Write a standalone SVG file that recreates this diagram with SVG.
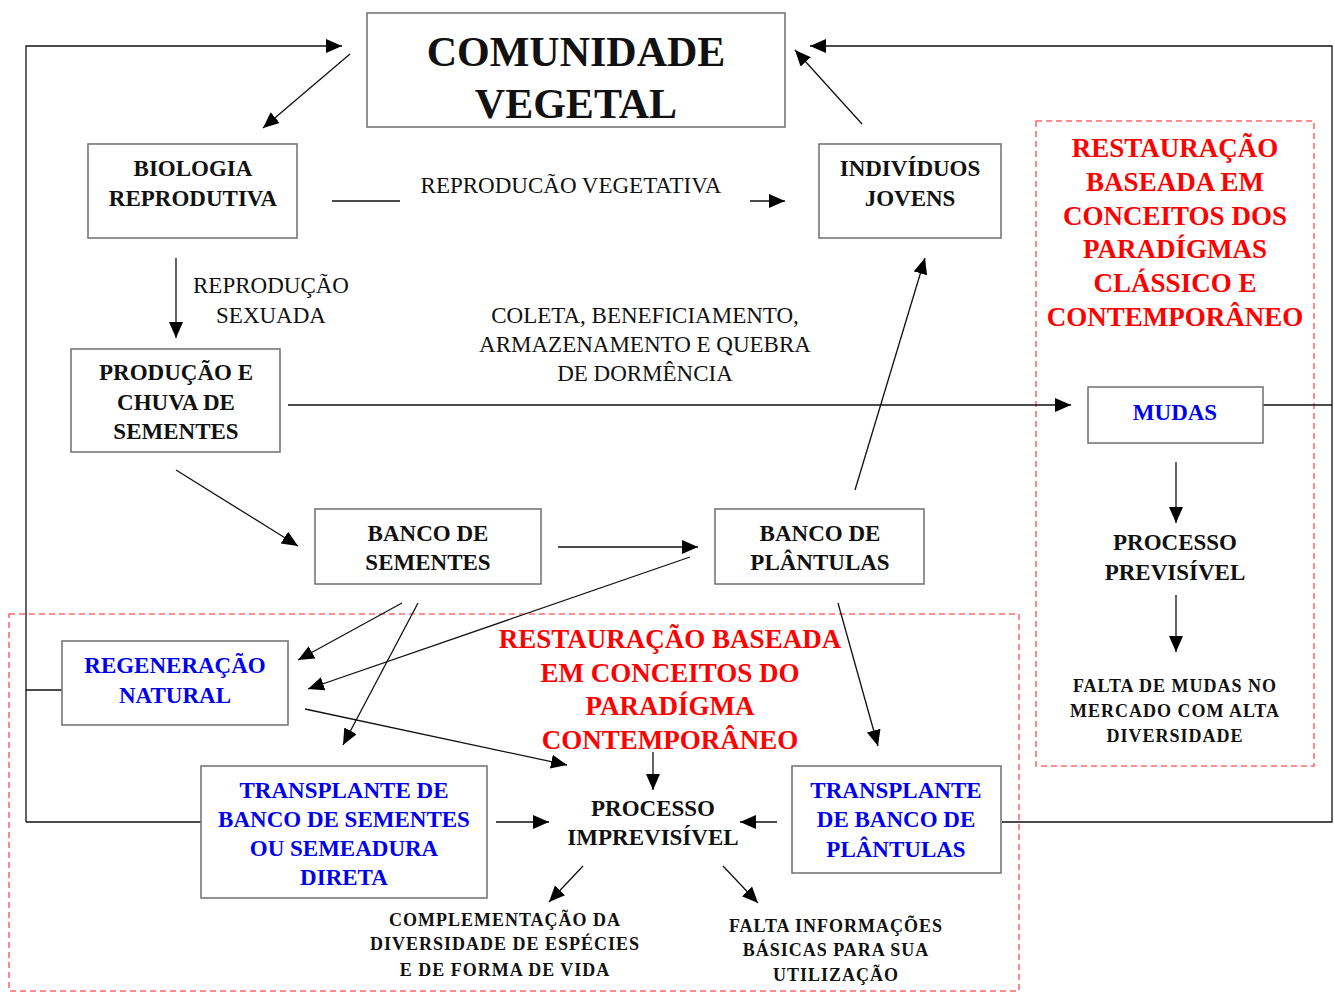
<svg xmlns="http://www.w3.org/2000/svg" width="1335" height="992" viewBox="0 0 1335 992">
<style>
text{font-family:"Liberation Serif","Times New Roman",serif;text-anchor:middle}
.b{font-weight:bold;font-size:23px;fill:#111}
.blue{font-weight:bold;font-size:23px;fill:#0000ee}
.red{font-weight:bold;font-size:27px;fill:#ff0000}
.reg{font-size:23px;fill:#111}
.sm{font-weight:bold;font-size:18px;fill:#111;letter-spacing:1px}
.box{fill:#fff;stroke:#777;stroke-width:1.6}
.dash{fill:none;stroke:#ff6b6b;stroke-width:1.6;stroke-dasharray:6 4}
.ln{fill:none;stroke:#111;stroke-width:1.3}
.ar{fill:none;stroke:#111;stroke-width:1.3;marker-end:url(#ah)}
</style>
<defs>
<marker id="ah" markerUnits="userSpaceOnUse" markerWidth="18" markerHeight="16" refX="16" refY="7" orient="auto">
<path d="M0,0 L16,7 L0,14 Z" fill="#000"/>
</marker>
</defs>
<rect width="1335" height="992" fill="#fff"/>
<g id="regions">
<rect class="dash" x="1036" y="121" width="278" height="645"/>
<rect class="dash" x="9" y="614" width="1010" height="377"/>
</g>
<g id="connectors">
<path class="ar" d="M26,822 L26,46 L342,46"/>
<path class="ln" d="M62,690 L26,690"/>
<path class="ln" d="M201,822 L26,822"/>
<path class="ar" d="M1002,822 L1332,822 L1332,46 L810,46"/>
<path class="ln" d="M1263,405 L1332,405"/>
<path class="ar" d="M350,54 L263,128"/>
<path class="ar" d="M862,124 L795,50"/>
<path class="ln" d="M332,201 L400,201"/>
<path class="ar" d="M750,201 L785,201"/>
<path class="ar" d="M176,258 L176,338"/>
<path class="ar" d="M288,405 L1071,405"/>
<path class="ar" d="M176,470 L298,546"/>
<path class="ar" d="M558,547 L698,547"/>
<path class="ar" d="M855,490 L925,258"/>
<path class="ar" d="M690,557 L308,689"/>
<path class="ar" d="M402,603 L298,660"/>
<path class="ar" d="M418,603 L343,745"/>
<path class="ar" d="M305,709 L567,765"/>
<path class="ar" d="M838,603 L878,746"/>
<path class="ar" d="M653,752 L653,790"/>
<path class="ar" d="M496,822 L549,822"/>
<path class="ar" d="M777,822 L740,822"/>
<path class="ar" d="M583,866 L549,902"/>
<path class="ar" d="M723,866 L758,903"/>
<path class="ar" d="M1176,462 L1176,523"/>
<path class="ar" d="M1176,595 L1176,652"/>
</g>
<g id="comunidade">
<rect class="box" x="367" y="13" width="418" height="114"/>
<text x="576" y="66" style="font-weight:bold;font-size:42px;fill:#111">COMUNIDADE</text>
<text x="576" y="118" style="font-weight:bold;font-size:42px;fill:#111">VEGETAL</text>
</g>
<g id="biologia">
<rect class="box" x="88" y="144" width="209" height="94"/>
<text class="b" x="193" y="176">BIOLOGIA</text>
<text class="b" x="193" y="206">REPRODUTIVA</text>
</g>
<g id="individuos">
<rect class="box" x="819" y="144" width="182" height="94"/>
<text class="b" x="910" y="176">INDIVÍDUOS</text>
<text class="b" x="910" y="206">JOVENS</text>
</g>
<g id="label-vegetativa">
<text class="reg" x="571" y="193">REPRODUCÃO VEGETATIVA</text>
</g>
<g id="label-sexuada">
<text class="reg" x="271" y="293">REPRODUÇÃO</text>
<text class="reg" x="271" y="323">SEXUADA</text>
</g>
<g id="label-coleta">
<text class="reg" x="645" y="323">COLETA, BENEFICIAMENTO,</text>
<text class="reg" x="645" y="352">ARMAZENAMENTO E QUEBRA</text>
<text class="reg" x="645" y="381">DE DORMÊNCIA</text>
</g>
<g id="producao">
<rect class="box" x="71" y="349" width="209" height="103"/>
<text class="b" x="176" y="380">PRODUÇÃO E</text>
<text class="b" x="176" y="410">CHUVA DE</text>
<text class="b" x="176" y="439">SEMENTES</text>
</g>
<g id="restauracao-classico">
<text class="red" x="1175" y="157">RESTAURAÇÃO</text>
<text class="red" x="1175" y="191">BASEADA EM</text>
<text class="red" x="1175" y="225">CONCEITOS DOS</text>
<text class="red" x="1175" y="258">PARADÍGMAS</text>
<text class="red" x="1175" y="292">CLÁSSICO E</text>
<text class="red" x="1175" y="326">CONTEMPORÂNEO</text>
</g>
<g id="mudas">
<rect class="box" x="1088" y="387" width="175" height="56"/>
<text class="blue" x="1175" y="420">MUDAS</text>
</g>
<g id="banco-sementes">
<rect class="box" x="315" y="509" width="226" height="75"/>
<text class="b" x="428" y="541">BANCO DE</text>
<text class="b" x="428" y="570">SEMENTES</text>
</g>
<g id="banco-plantulas">
<rect class="box" x="715" y="509" width="209" height="75"/>
<text class="b" x="820" y="541">BANCO DE</text>
<text class="b" x="820" y="570">PLÂNTULAS</text>
</g>
<g id="processo-previsivel">
<text class="b" x="1175" y="550">PROCESSO</text>
<text class="b" x="1175" y="580">PREVISÍVEL</text>
</g>
<g id="falta-mudas">
<text class="sm" x="1175" y="692">FALTA DE MUDAS NO</text>
<text class="sm" x="1175" y="717">MERCADO COM ALTA</text>
<text class="sm" x="1175" y="742">DIVERSIDADE</text>
</g>
<g id="regeneracao">
<rect class="box" x="62" y="641" width="226" height="84"/>
<text class="blue" x="175" y="673">REGENERAÇÃO</text>
<text class="blue" x="175" y="703">NATURAL</text>
</g>
<g id="restauracao-contemporaneo">
<text class="red" x="670" y="648">RESTAURAÇÃO BASEADA</text>
<text class="red" x="670" y="682">EM CONCEITOS DO</text>
<text class="red" x="670" y="715">PARADÍGMA</text>
<text class="red" x="670" y="749">CONTEMPORÂNEO</text>
</g>
<g id="transplante-sementes">
<rect class="box" x="201" y="766" width="286" height="132"/>
<text class="blue" x="344" y="798">TRANSPLANTE DE</text>
<text class="blue" x="344" y="827">BANCO DE SEMENTES</text>
<text class="blue" x="344" y="856">OU SEMEADURA</text>
<text class="blue" x="344" y="885">DIRETA</text>
</g>
<g id="processo-imprevisivel">
<text class="b" x="653" y="816">PROCESSO</text>
<text class="b" x="653" y="845">IMPREVISÍVEL</text>
</g>
<g id="transplante-plantulas">
<rect class="box" x="792" y="766" width="209" height="107"/>
<text class="blue" x="896" y="798">TRANSPLANTE</text>
<text class="blue" x="896" y="827">DE BANCO DE</text>
<text class="blue" x="896" y="857">PLÂNTULAS</text>
</g>
<g id="complementacao">
<text class="sm" x="505" y="926">COMPLEMENTAÇÃO DA</text>
<text class="sm" x="505" y="950">DIVERSIDADE DE ESPÉCIES</text>
<text class="sm" x="505" y="976">E DE FORMA DE VIDA</text>
</g>
<g id="falta-info">
<text class="sm" x="836" y="932">FALTA INFORMAÇÕES</text>
<text class="sm" x="836" y="956">BÁSICAS PARA SUA</text>
<text class="sm" x="836" y="981">UTILIZAÇÃO</text>
</g>
</svg>
